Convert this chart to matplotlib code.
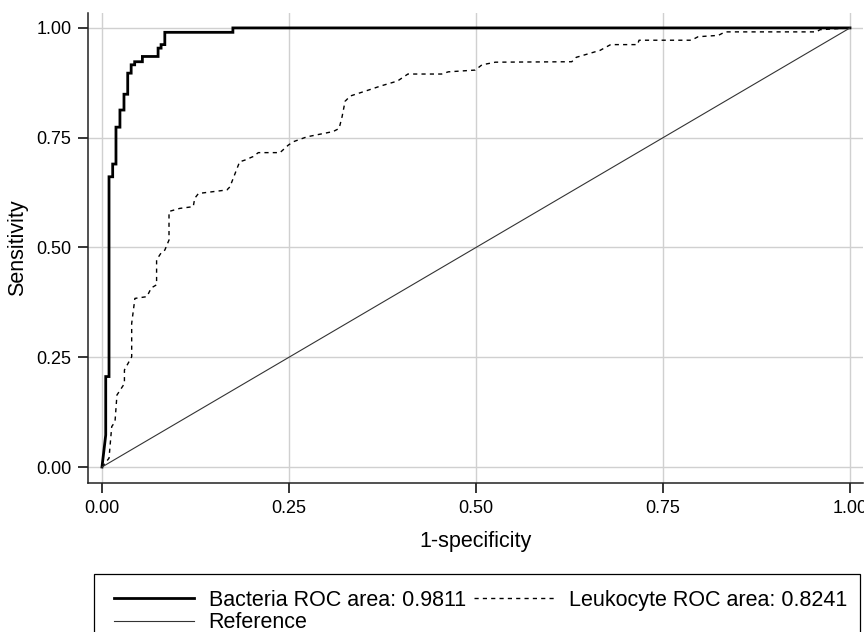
import matplotlib.pyplot as plt
from matplotlib.patches import Rectangle

plt.rcParams['font.family'] = ['Liberation Sans', 'DejaVu Sans']

# ROC curve vertices (1-specificity, sensitivity)
bact_fpr = [0.0, 0.005, 0.005, 0.0094, 0.0094, 0.0143, 0.0143, 0.0187, 0.0187,
            0.024, 0.024, 0.0294, 0.0294, 0.0344, 0.0344, 0.039, 0.039, 0.0437,
            0.0437, 0.054, 0.054, 0.075, 0.075, 0.079, 0.079, 0.084, 0.084,
            0.175, 0.175, 1.0]
bact_tpr = [0.0, 0.073, 0.206, 0.206, 0.661, 0.661, 0.690, 0.690, 0.774,
            0.774, 0.813, 0.813, 0.849, 0.849, 0.897, 0.897, 0.916, 0.916,
            0.923, 0.923, 0.935, 0.935, 0.954, 0.954, 0.962, 0.962, 0.990,
            0.990, 1.0, 1.0]

leuk_fpr = [0.0, 0.0094, 0.013, 0.0174, 0.020, 0.030, 0.030, 0.0397, 0.0397,
            0.044, 0.060, 0.066, 0.073, 0.073, 0.080, 0.084, 0.0896, 0.0896,
            0.104, 0.122, 0.124, 0.129, 0.167, 0.171, 0.184, 0.191, 0.202,
            0.209, 0.238, 0.249, 0.256, 0.274, 0.309, 0.317, 0.321, 0.325,
            0.332, 0.359, 0.373, 0.395, 0.409, 0.454, 0.463, 0.499, 0.508,
            0.526, 0.628, 0.634, 0.666, 0.680, 0.716, 0.718, 0.788, 0.797,
            0.824, 0.833, 0.955, 0.960, 1.0]
leuk_tpr = [0.0, 0.020, 0.092, 0.103, 0.164, 0.190, 0.221, 0.251, 0.327,
            0.384, 0.388, 0.408, 0.415, 0.472, 0.490, 0.494, 0.517, 0.582,
            0.589, 0.593, 0.612, 0.623, 0.631, 0.638, 0.695, 0.699, 0.707,
            0.716, 0.716, 0.733, 0.741, 0.752, 0.764, 0.771, 0.798, 0.833,
            0.845, 0.860, 0.868, 0.879, 0.895, 0.895, 0.900, 0.904, 0.916,
            0.922, 0.923, 0.933, 0.949, 0.962, 0.962, 0.972, 0.972, 0.980,
            0.983, 0.991, 0.991, 0.996, 1.0]

ref_x = [0.0, 1.0]
ref_y = [0.0, 1.0]

ticks = [0.0, 0.25, 0.5, 0.75, 1.0]
tick_labels = ["0.00", "0.25", "0.50", "0.75", "1.00"]

W, H = 864, 632
fig = plt.figure(figsize=(W / 100, H / 100), dpi=100)
ax = fig.add_axes([88 / W, 1 - 483 / H, (863 - 88) / W, (483 - 13) / H])

l1, = ax.plot(bact_fpr, bact_tpr, color='black', lw=2.0, solid_joinstyle='miter',
              label='Bacteria ROC area: 0.9811')
l2, = ax.plot(leuk_fpr, leuk_tpr, color='black', lw=1.0, linestyle=(0, (3, 3)),
              label='Leukocyte ROC area: 0.8241')
l3, = ax.plot(ref_x, ref_y, color='#333333', lw=0.8, label='Reference')

ax.set_xlim(-0.0187, 1.0174)
ax.set_ylim(-0.0364, 1.034)
ax.set_xticks(ticks, tick_labels)
ax.set_yticks(ticks, tick_labels)
ax.tick_params(direction='out', length=7, width=1.1, labelsize=13, pad=5, color='black')
ax.grid(True, color='#d0d0d0', lw=1.0)
ax.set_axisbelow(True)
for side in ['top', 'right']:
    ax.spines[side].set_visible(False)
for side in ['left', 'bottom']:
    ax.spines[side].set_linewidth(1.1)
    ax.spines[side].set_color('#222222')

ax.set_xlabel('1-specificity', fontsize=15.5, labelpad=10)
ax.set_ylabel('Sensitivity', fontsize=15.5, labelpad=6)

fig.patches.append(Rectangle((94 / W, -0.05), (860 - 94) / W, 1 - 574 / H + 0.05,
                             transform=fig.transFigure, fill=False,
                             edgecolor='black', lw=0.9))
fig.legend(handles=[l1, l3, l2], ncol=2, loc='upper left',
           bbox_to_anchor=(114 / W, 1 - 590 / H), frameon=False,
           fontsize=15.5, handlelength=3.7, handletextpad=0.7,
           columnspacing=0.4, labelspacing=0.05, borderpad=0, borderaxespad=0)

fig.savefig('out.png', dpi=100)
